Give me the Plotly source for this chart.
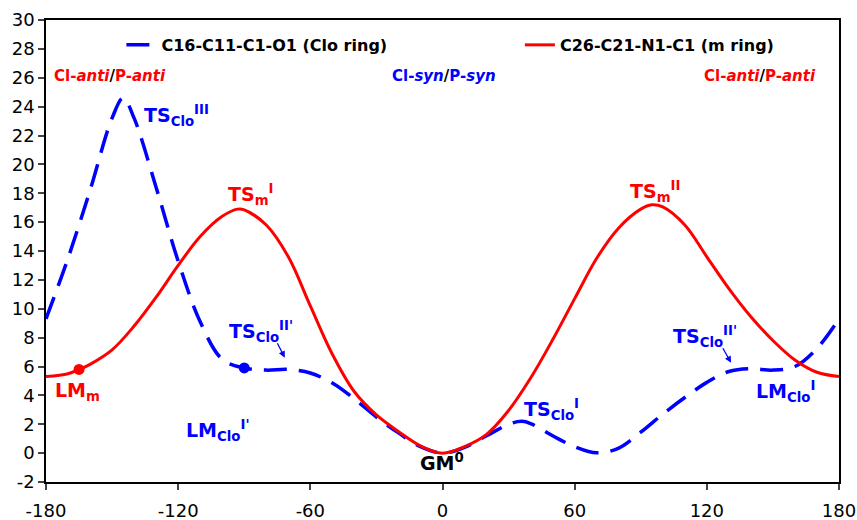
import plotly.graph_objects as go

# ---- data ----
angle_clo = [-180, -170, -160, -150, -145, -140, -130, -120, -110, -100, -90, -80, -70, -60,
             -50, -40, -30, -20, -10, 0, 10, 20, 30, 36, 40, 50, 60, 70, 80, 90, 100, 110,
             120, 130, 140, 150, 160, 170, 180]
energy_clo = [9.3, 13.5, 18.2, 23.2, 24.6, 23.2, 18.4, 13.3, 9.1, 6.5, 5.9, 5.75, 5.8, 5.55,
              4.85, 3.75, 2.5, 1.4, 0.45, 0.0, 0.4, 1.2, 2.0, 2.2, 2.05, 1.2, 0.45, 0.02, 0.35,
              1.45, 2.7, 3.85, 4.9, 5.65, 5.85, 5.75, 6.0, 7.25, 9.3]

angle_m = [-180, -170, -165, -160, -150, -140, -130, -120, -110, -100, -93, -90, -80, -70,
           -60, -50, -40, -30, -20, -10, 0, 10, 20, 30, 40, 50, 60, 70, 80, 90, 95, 100,
           110, 120, 130, 140, 150, 160, 170, 180]
energy_m = [5.3, 5.5, 5.8, 6.15, 7.15, 8.8, 10.8, 13.0, 15.0, 16.4, 16.9, 16.85, 15.8, 13.6,
            10.2, 6.85, 4.25, 2.65, 1.5, 0.5, 0.0, 0.45, 1.3, 2.95, 5.2, 7.85, 10.7, 13.5,
            15.6, 16.9, 17.2, 17.05, 15.8, 13.6, 11.4, 9.45, 7.8, 6.45, 5.6, 5.3]

lm_m_point = ([-165], [5.8])
lm_clo_point = ([-90], [5.9])

x_ticks = [-180, -120, -60, 0, 60, 120, 180]
x_tick_labels = ["-180", "-120", "-60", "0", "60", "120", "180"]
y_ticks = list(range(-2, 31, 2))
y_tick_labels = [str(v) for v in y_ticks]

series_names = ["C16-C11-C1-O1 (Clo ring)", "C26-C21-N1-C1 (m ring)"]

RED = "#FF0000"
BLUE = "#0000FF"
FONT = "DejaVu Sans"

fig = go.Figure()
fig.add_trace(go.Scatter(
    x=angle_clo, y=energy_clo, mode="lines", name="<b>" + series_names[0] + "</b>",
    line=dict(color=BLUE, width=3.5, dash="23px,12px", shape="spline", smoothing=1.0),
    legend="legend"))
fig.add_trace(go.Scatter(
    x=angle_m, y=energy_m, mode="lines", name="<b>" + series_names[1] + "</b>",
    line=dict(color=RED, width=3, shape="spline", smoothing=1.0),
    legend="legend2"))
fig.add_trace(go.Scatter(x=lm_m_point[0], y=lm_m_point[1], mode="markers",
                         marker=dict(color=RED, size=11), showlegend=False))
fig.add_trace(go.Scatter(x=lm_clo_point[0], y=lm_clo_point[1], mode="markers",
                         marker=dict(color=BLUE, size=11), showlegend=False))

# labels: (text, x, y, color, size)
labels = [
    ("TS<sub>Clo</sub><sup>III</sup>", -136.5, 23.4, BLUE, 19),
    ("TS<sub>m</sub><sup>I</sup>", -98.4, 17.9, RED, 19),
    ("TS<sub>m</sub><sup>II</sup>", 84.3, 18.1, RED, 19),
    ("TS<sub>Clo</sub><sup>II'</sup>", -97.9, 8.4, BLUE, 19),
    ("LM<sub>Clo</sub><sup>I'</sup>", -117.4, 1.6, BLUE, 19),
    ("LM<sub>m</sub>", -176.8, 4.3, RED, 19),
    ("GM<sup>0</sup>", -11.3, -0.6, "black", 19),
    ("TS<sub>Clo</sub><sup>I</sup>", 36.3, 3.0, BLUE, 19),
    ("TS<sub>Clo</sub><sup>II'</sup>", 103.8, 8.1, BLUE, 19),
    ("LM<sub>Clo</sub><sup>I</sup>", 141.5, 4.3, BLUE, 19),
]
annotations = []
for text, x, y, color, size in labels:
    annotations.append(dict(text="<b>" + text + "</b>", x=x, y=y, xref="x", yref="y",
                            xanchor="left", yanchor="middle", showarrow=False,
                            font=dict(family=FONT, size=size, color=color)))

anti = ("<b>Cl-<i>anti</i><span style='color:black'>/</span>P-<i>anti</i></b>")
syn = ("<b>Cl-<i>syn</i><span style='color:black'>/</span>P-<i>syn</i></b>")
annotations += [
    dict(text=anti, x=-177.3, y=26.1, xanchor="left", yanchor="middle", showarrow=False,
         font=dict(family=FONT, size=15, color=RED)),
    dict(text=syn, x=0.5, y=26.1, xanchor="center", yanchor="middle", showarrow=False,
         font=dict(family=FONT, size=15, color=BLUE)),
    dict(text=anti, x=170.5, y=26.1, xanchor="right", yanchor="middle", showarrow=False,
         font=dict(family=FONT, size=15, color=RED)),
]
# small arrows pointing at TS_Clo^II'
arrows = [((-71.6, 6.61), (-75.3, 7.72)), ((131.0, 6.26), (126.9, 7.37))]
for (hx, hy), (tx, ty) in arrows:
    annotations.append(dict(text="", x=hx, y=hy, ax=tx, ay=ty, xref="x", yref="y",
                            axref="x", ayref="y", showarrow=True, arrowhead=2,
                            arrowsize=1, arrowwidth=1.3, arrowcolor=BLUE))

PL, PR = 45.5, 839.5
pw = PR - PL
fig.update_layout(
    width=857, height=520,
    margin=dict(l=45.5, r=17.5, t=20, b=37.5, autoexpand=False),
    paper_bgcolor="white", plot_bgcolor="white",
    font=dict(family=FONT, size=18, color="black"),
    annotations=annotations,
    legend=dict(x=(121 - PL) / pw, y=0.946, xanchor="left", yanchor="middle",
                bgcolor="rgba(0,0,0,0)", font=dict(family=FONT, size=16, color="black"),
                itemwidth=30),
    legend2=dict(x=(520 - PL) / pw, y=0.946, xanchor="left", yanchor="middle",
                 bgcolor="rgba(0,0,0,0)", font=dict(family=FONT, size=16, color="black"),
                 itemwidth=30),
)

fig.update_xaxes(range=[-180, 180], tickvals=x_ticks, ticktext=x_tick_labels,
                 ticks="outside", ticklen=6, tickwidth=1.5, showgrid=False, zeroline=False,
                 showline=True, linecolor="black", linewidth=1.5, mirror=True,
                 automargin=False, ticklabeloverflow="allow", ticklabelstandoff=6,
                 tickfont=dict(family=FONT, size=18, color="black"))
fig.update_yaxes(range=[-2, 30], tickvals=y_ticks, ticktext=y_tick_labels,
                 ticks="outside", ticklen=6, tickwidth=1.5, showgrid=False, zeroline=False,
                 showline=True, linecolor="black", linewidth=1.5, mirror=True,
                 automargin=False, ticklabeloverflow="allow",
                 tickfont=dict(family=FONT, size=18, color="black"))

# remove the default 8px page margin so the figure fills the 857x520 window exactly
fig.write_html("out.html", config={"displayModeBar": False},
               post_script="document.body.style.margin='0';document.body.style.overflow='hidden';")
